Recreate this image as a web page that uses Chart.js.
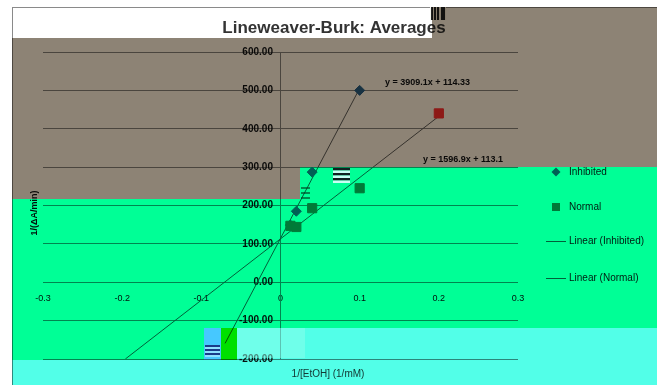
<!DOCTYPE html>
<html>
<head>
<meta charset="utf-8">
<script src="https://cdn.jsdelivr.net/npm/chart.js@4.4.0/dist/chart.umd.min.js"></script>
<style>
  html, body { margin: 0; padding: 0; background: #fff; }
  #wrap { width: 657px; height: 385px; }
</style>
</head>
<body>
<div id="wrap"><canvas id="grafik"></canvas></div>
<script>
// --------------------------------------------
// DATA
// --------------------------------------------
const inhibitedX = [0.0125, 0.02, 0.04, 0.1];
const inhibitedY = [149, 185, 287, 500];
const normalX = [0.0125, 0.02, 0.04, 0.1, 0.2];
const normalY = [147, 144, 193, 245, 440];

// trendline end points (Excel linear trendlines, as drawn)
const trendInhibitedX = [-0.07, 0.1];
const trendInhibitedY = [-159.3, 505.2];
const trendNormalX = [-0.196, 0.2];
const trendNormalY = [-200, 432.5];

const xTicks = [-0.3, -0.2, -0.1, 0, 0.1, 0.2, 0.3];
const xTickLabels = ["-0.3", "-0.2", "-0.1", "0", "0.1", "0.2", "0.3"];
const yTicks = [-200, -100, 0, 100, 200, 300, 400, 500, 600];
const yTickLabels = ["-200.00", "-100.00", "0.00", "100.00", "200.00", "300.00", "400.00", "500.00", "600.00"];

const seriesNames = ["Inhibited", "Normal", "Linear (Inhibited)", "Linear (Normal)"];
const equations = ["y = 3909.1x + 114.33", "y = 1596.9x + 113.1"];
const chartTitle = "Lineweaver-Burk: Averages";
const xTitle = "1/[EtOH] (1/mM)";
const yTitle = "1/(\u0394A/min)";

const FONT = '"Liberation Sans", Arial, sans-serif';
const INH_COLOR = "#2a6090";
const NORM_RED = "#ff3030";
const NORM_GREEN = "#5a7a5e";
const TREND_COLOR = "#606060";

const pts = (xs, ys) => xs.map((x, i) => ({ x, y: ys[i] }));

// colour blocks of the damaged screenshot, laid over the chart (multiply)
const patches = [
  { x: 12,  y: 38,  w: 645, h: 129, c: "#8d8375" },
  { x: 432, y: 7,   w: 225, h: 31,  c: "#8d8375" },
  { x: 12,  y: 167, w: 288, h: 32,  c: "#8d8375" },
  { x: 300, y: 167, w: 357, h: 32,  c: "#00ff96" },
  { x: 12,  y: 199, w: 645, h: 129, c: "#00ff96" },
  { x: 12,  y: 328, w: 192, h: 32,  c: "#00ff96" },
  { x: 204, y: 328, w: 17,  h: 32,  c: "#46c8ff" },
  { x: 221, y: 328, w: 16,  h: 32,  c: "#00e000" },
  { x: 237, y: 328, w: 420, h: 32,  c: "#52ffe8" },
  { x: 12,  y: 360, w: 645, h: 25,  c: "#52ffe8" },
];

function stripes(ctx, x, y, w, h, dark, light, step) {
  for (let yy = y, k = 0; yy < y + h; yy += step, k++) {
    ctx.fillStyle = k % 2 ? light : dark;
    ctx.fillRect(x, yy, w, step);
  }
}

const decor = {
  id: "decor",
  beforeDraw(chart) {
    const { ctx, width, height } = chart;
    ctx.save();
    ctx.fillStyle = "#fff";
    ctx.fillRect(0, 0, width, height);
    ctx.strokeStyle = "#8a8a8a";
    ctx.lineWidth = 1;
    ctx.strokeRect(12.5, 7.5, width, height);
    ctx.restore();
  },
  afterDraw(chart) {
    const { ctx } = chart;
    ctx.save();

    // barcode-like block at the end of the title strip
    ctx.fillStyle = "#f4f4ee";
    ctx.fillRect(430, 7, 16, 13);
    ctx.fillStyle = "#222";
    [431, 434, 437, 441].forEach((bx, i) => ctx.fillRect(bx, 7, i === 3 ? 4 : 2, 13));

    // title
    ctx.fillStyle = "#333";
    ctx.font = "bold 17px " + FONT;
    ctx.textAlign = "center";
    ctx.textBaseline = "middle";
    ctx.fillText(chartTitle, 334, 28);

    // trendline equations
    ctx.fillStyle = "#111";
    ctx.font = "bold 9px " + FONT;
    ctx.textAlign = "left";
    ctx.fillText(equations[0], 385, 83);
    ctx.fillText(equations[1], 423, 160);

    // axis titles
    ctx.fillStyle = "#3a3a3a";
    ctx.font = "10px " + FONT;
    ctx.textAlign = "center";
    ctx.fillText(xTitle, 328, 374);
    ctx.save();
    ctx.translate(35, 213);
    ctx.rotate(-Math.PI / 2);
    ctx.fillStyle = "#111";
    ctx.font = "bold 9px " + FONT;
    ctx.fillText(yTitle, 0, 0);
    ctx.restore();

    // legend
    ctx.font = "10px " + FONT;
    ctx.textAlign = "left";
    ctx.fillStyle = "#222";
    const rows = [172, 207, 241, 278];
    rows.forEach((ry, i) => ctx.fillText(seriesNames[i], 569, ry));
    ctx.fillStyle = INH_COLOR;
    ctx.beginPath();
    ctx.moveTo(556, 172 - 4.5); ctx.lineTo(560.5, 172); ctx.lineTo(556, 172 + 4.5); ctx.lineTo(551.5, 172);
    ctx.closePath();
    ctx.fill();
    ctx.fillStyle = NORM_GREEN;
    ctx.fillRect(552, 203, 8, 8);
    ctx.strokeStyle = TREND_COLOR;
    ctx.lineWidth = 1;
    [241, 278].forEach(ry => {
      ctx.beginPath(); ctx.moveTo(546, ry + 0.5); ctx.lineTo(566, ry + 0.5); ctx.stroke();
    });

    // the broken screenshot colours
    ctx.globalCompositeOperation = "multiply";
    patches.forEach(p => { ctx.fillStyle = p.c; ctx.fillRect(p.x, p.y, p.w, p.h); });
    ctx.globalCompositeOperation = "source-over";

    ctx.fillStyle = "rgba(140,255,236,0.5)";
    ctx.fillRect(237, 328, 68, 30);
    stripes(ctx, 205, 345, 15, 12, "#1a3a8a", "#8fe0ff", 2);
    stripes(ctx, 333, 168, 17, 15, "#102020", "#c8fff4", 2.5);
    ctx.fillStyle = "rgba(0,60,30,0.6)";
    ctx.fillRect(301, 187, 9, 2); ctx.fillRect(301, 192, 9, 2); ctx.fillRect(301, 197, 9, 2);
    ctx.restore();
  }
};

new Chart(document.getElementById("grafik"), {
  type: "scatter",
  data: {
    datasets: [
      {
        label: seriesNames[0],
        data: pts(inhibitedX, inhibitedY),
        pointStyle: "rectRot",
        pointRadius: 5,
        backgroundColor: INH_COLOR,
        borderColor: INH_COLOR,
        borderWidth: 1,
        order: 1,
      },
      {
        label: seriesNames[1],
        data: pts(normalX, normalY),
        pointStyle: "rect",
        pointRadius: 6.5,
        backgroundColor: c => (c.raw && c.raw.y > 400 ? NORM_RED : NORM_GREEN),
        borderColor: c => (c.raw && c.raw.y > 400 ? NORM_RED : NORM_GREEN),
        borderWidth: 1,
        order: 0,
      },
      {
        label: seriesNames[2],
        data: pts(trendInhibitedX, trendInhibitedY),
        showLine: true,
        pointRadius: 0,
        borderColor: TREND_COLOR,
        borderWidth: 1,
        order: 2,
      },
      {
        label: seriesNames[3],
        data: pts(trendNormalX, trendNormalY),
        showLine: true,
        pointRadius: 0,
        borderColor: TREND_COLOR,
        borderWidth: 1,
        order: 3,
      },
    ],
  },
  options: {
    responsive: true,
    maintainAspectRatio: false,
    animation: false,
    layout: { padding: { left: 43, right: 139, top: 52, bottom: 26 } },
    plugins: {
      legend: { display: false },
      title: { display: false },
      tooltip: { enabled: false },
    },
    scales: {
      x: {
        type: "linear",
        min: -0.3,
        max: 0.3,
        position: { y: 0 },
        afterBuildTicks: s => { s.ticks = xTicks.map(v => ({ value: v })); },
        ticks: {
          callback: (v, i) => xTickLabels[i],
          font: { family: FONT, size: 9 },
          color: "#111",
          padding: 11,
          maxRotation: 0,
        },
        grid: { display: false, drawTicks: false },
        border: { display: false },
      },
      y: {
        type: "linear",
        min: -200,
        max: 600,
        position: { x: 0 },
        afterBuildTicks: s => { s.ticks = yTicks.map(v => ({ value: v })); },
        // labels sit a little left of the axis, as in Excel (figure space + thin space)
        ticks: {
          callback: (v, i) => yTickLabels[i] + "\u2007\u2009",
          font: { family: FONT, size: 10, weight: "bold" },
          color: "#111",
        },
        grid: { color: "#868686", drawTicks: false },
        border: { display: true, color: "#868686" },
      },
    },
  },
  plugins: [decor],
});
</script>
</body>
</html>
